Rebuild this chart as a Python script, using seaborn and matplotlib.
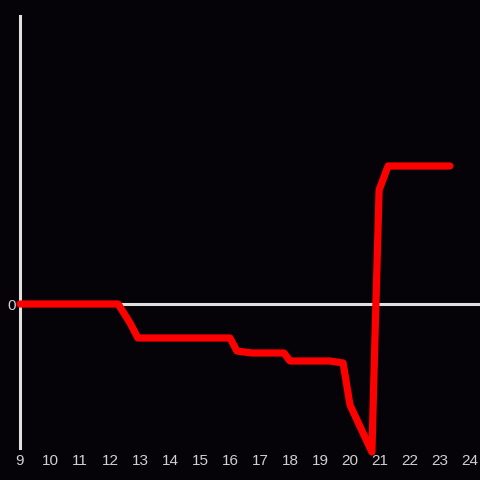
import pandas as pd
import seaborn as sns
import matplotlib.pyplot as plt

# hour of day vs value
hours = [9.0, 12.27, 12.67, 12.93, 16.0, 16.23, 16.73, 17.8, 18.0, 19.33,
         19.77, 20.0, 20.73, 20.83, 20.97, 21.27, 23.33]
values = [0, 0, -9.5, -17, -17, -23.5, -24.5, -24.5, -28.5, -28.5,
          -29.5, -50.5, -74, -18, 57, 69, 69]
xticks = list(range(9, 25))

df = pd.DataFrame({"hour": hours, "value": values})

bg = "#050308"
sns.set_style("dark", {"axes.facecolor": bg, "figure.facecolor": bg})
plt.rcParams["font.family"] = ["Liberation Sans", "DejaVu Sans"]

fig = plt.figure(figsize=(4.8, 4.8), dpi=100)
ax = fig.add_axes([20 / 480, 32 / 480, 460 / 480, 432 / 480])

sns.lineplot(data=df, x="hour", y="value", ax=ax, color="#ff0000",
             linewidth=5.2, sort=False, clip_on=False, zorder=3)
ax.axhline(0, color="#e0e0e0", linewidth=2.2, zorder=2, clip_on=False,
           xmin=0, xmax=1)

ax.set_xlim(9, 9 + 460 / 30)
ax.set_ylim(-72, 144)
ax.set_xticks(xticks)
ax.set_yticks([0])
ax.tick_params(colors="#d0d0d0", labelsize=11, length=0, pad=4)
ax.tick_params(axis="y", pad=3)
ax.set_xlabel("")
ax.set_ylabel("")
ax.grid(False)
for s in ["top", "right", "bottom"]:
    ax.spines[s].set_visible(False)
ax.spines["left"].set_color("#e0e0e0")
ax.spines["left"].set_linewidth(2.2)

fig.savefig("out.png", dpi=100, facecolor=bg)
